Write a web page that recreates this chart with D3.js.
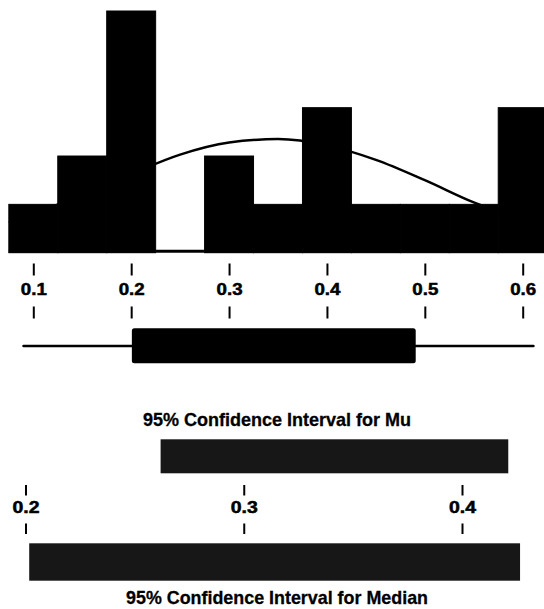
<!DOCTYPE html>
<html>
<head>
<meta charset="utf-8">
<script src="https://cdn.jsdelivr.net/npm/d3@7"></script>
<style>
  html, body { margin: 0; padding: 0; background: #fff; }
  svg { display: block; }
</style>
</head>
<body>
<div class="chart"></div>
<script>
// histogram bins (centre of each bin) and counts
const binCenters = [0.10, 0.15, 0.20, 0.25, 0.30, 0.35, 0.40, 0.45, 0.50, 0.55, 0.60];
const binCounts = [1, 2, 5, 0, 2, 1, 3, 1, 1, 1, 3];
const binWidth = 0.05;

// fitted normal curve (value, count)
const curveX = [0.075, 0.10, 0.15, 0.20, 0.25, 0.30, 0.35, 0.40, 0.45, 0.50, 0.55, 0.60, 0.625];
const curveY = [0.62, 0.80, 1.20, 1.63, 2.03, 2.28, 2.35, 2.22, 1.92, 1.50, 1.04, 0.68, 0.54];

// boxplot: min, Q1, Q3, max
const boxStats = [0.090, 0.2007, 0.4907, 0.611];

// top axis ticks
const topTicks = [0.1, 0.2, 0.3, 0.4, 0.5, 0.6];

// confidence intervals
const muCI = [0.2619, 0.4212];
const medianCI = [0.2017, 0.4266];
const ciTicks = [0.2, 0.3, 0.4];
const ciTitles = ["95% Confidence Interval for Mu", "95% Confidence Interval for Median"];

document.addEventListener("DOMContentLoaded", function(){
    var W = 544, H = 609;
    var font = "'Liberation Sans', Arial, Helvetica, sans-serif";
    var svg = d3.select(".chart").append("svg")
        .attr("width", W).attr("height", H);
    svg.append("rect").attr("width", W).attr("height", H).attr("fill", "#fff");

    var x = d3.scaleLinear().domain([0.1, 0.6]).range([33.3, 522.7]);
    var y = d3.scaleLinear().domain([0, 5]).range([252.7, 11]);

    //直方图
    svg.append("g").selectAll("rect")
        .data(binCenters)
        .join("rect")
        .attr("x", (d) => x(d - binWidth / 2))
        .attr("y", (d, i) => y(binCounts[i]))
        .attr("width", (d) => x(d + binWidth / 2) - x(d - binWidth / 2))
        .attr("height", (d, i) => y(0) - y(binCounts[i]))
        .attr("fill", "#000")
        .attr("stroke", (d, i) => binCounts[i] > 0 ? "#000" : "none")
        .attr("stroke-width", 1);
    // 空箱子下面的底线
    svg.append("line")
        .attr("x1", x(binCenters[0] - binWidth / 2))
        .attr("x2", W)
        .attr("y1", y(0) - 1.5)
        .attr("y2", y(0) - 1.5)
        .attr("stroke", "#000")
        .attr("stroke-width", 3);

    //正态曲线
    var line = d3.line()
        .x((d) => x(d))
        .y((d, i) => y(curveY[i]))
        .curve(d3.curveMonotoneX);
    svg.append("path")
        .datum(curveX)
        .attr("d", line)
        .attr("fill", "none")
        .attr("stroke", "#000")
        .attr("stroke-width", 2.5);

    // 刻度：标签上下各一段短线
    function brokenAxis(scale, ticks, yTop, yLabel, yBottom, len, fontSize, textLen){
        var up = svg.append("g").attr("transform", "translate(0," + yTop + ")")
            .call(d3.axisBottom(scale).tickValues(ticks).tickSize(len).tickFormat(""));
        var down = svg.append("g").attr("transform", "translate(0," + yBottom + ")")
            .call(d3.axisBottom(scale).tickValues(ticks).tickSize(len).tickFormat(""));
        [up, down].forEach(function(g){
            g.select(".domain").remove();
            g.selectAll(".tick line").attr("stroke", "#000").attr("stroke-width", 2);
        });
        var lab = svg.append("g").attr("transform", "translate(0," + yLabel + ")")
            .call(d3.axisBottom(scale).tickValues(ticks).tickSize(0).tickPadding(0).tickFormat(d3.format(".1f")));
        lab.select(".domain").remove();
        lab.selectAll(".tick text")
            .attr("y", 0).attr("dy", 0)
            .attr("fill", "#000")
            .attr("stroke", "#000")
            .attr("stroke-width", 0.5)
            .style("font-family", font)
            .style("font-size", fontSize + "px")
            .style("font-weight", "bold")
            .attr("text-anchor", "middle")
            .attr("textLength", textLen)
            .attr("lengthAdjust", "spacingAndGlyphs");
    }
    brokenAxis(x, topTicks, 263.5, 295, 306.5, 12, 16.5, 26);

    //箱线图
    svg.append("line")
        .attr("x1", x(boxStats[0])).attr("x2", x(boxStats[3]))
        .attr("y1", 346).attr("y2", 346)
        .attr("stroke", "#000").attr("stroke-width", 2.5)
        .attr("stroke-linecap", "round");
    svg.append("rect")
        .attr("x", x(boxStats[1]))
        .attr("y", 328.3)
        .attr("width", x(boxStats[2]) - x(boxStats[1]))
        .attr("height", 35)
        .attr("rx", 2.5)
        .attr("fill", "#000");

    //置信区间
    var xc = d3.scaleLinear().domain([0.2, 0.4]).range([25.5, 462]);
    var ciFill = "#171717";

    svg.append("text")
        .attr("x", 277).attr("y", 426)
        .attr("text-anchor", "middle")
        .attr("textLength", 268).attr("lengthAdjust", "spacingAndGlyphs")
        .style("font-family", font).style("font-size", "18.5px").style("font-weight", "bold")
        .attr("fill", "#000").attr("stroke", "#000").attr("stroke-width", 0.3)
        .text(ciTitles[0]);

    svg.append("rect")
        .attr("x", xc(muCI[0])).attr("y", 439.3)
        .attr("width", xc(muCI[1]) - xc(muCI[0]))
        .attr("height", 34)
        .attr("fill", ciFill);

    brokenAxis(xc, ciTicks, 485, 513, 523.5, 10.5, 16, 27);

    svg.append("rect")
        .attr("x", xc(medianCI[0])).attr("y", 543.3)
        .attr("width", xc(medianCI[1]) - xc(medianCI[0]))
        .attr("height", 37.4)
        .attr("fill", ciFill);

    svg.append("text")
        .attr("x", 277).attr("y", 604.3)
        .attr("text-anchor", "middle")
        .attr("textLength", 302).attr("lengthAdjust", "spacingAndGlyphs")
        .style("font-family", font).style("font-size", "19px").style("font-weight", "bold")
        .attr("fill", "#000").attr("stroke", "#000").attr("stroke-width", 0.3)
        .text(ciTitles[1]);
});
</script>
</body>
</html>
